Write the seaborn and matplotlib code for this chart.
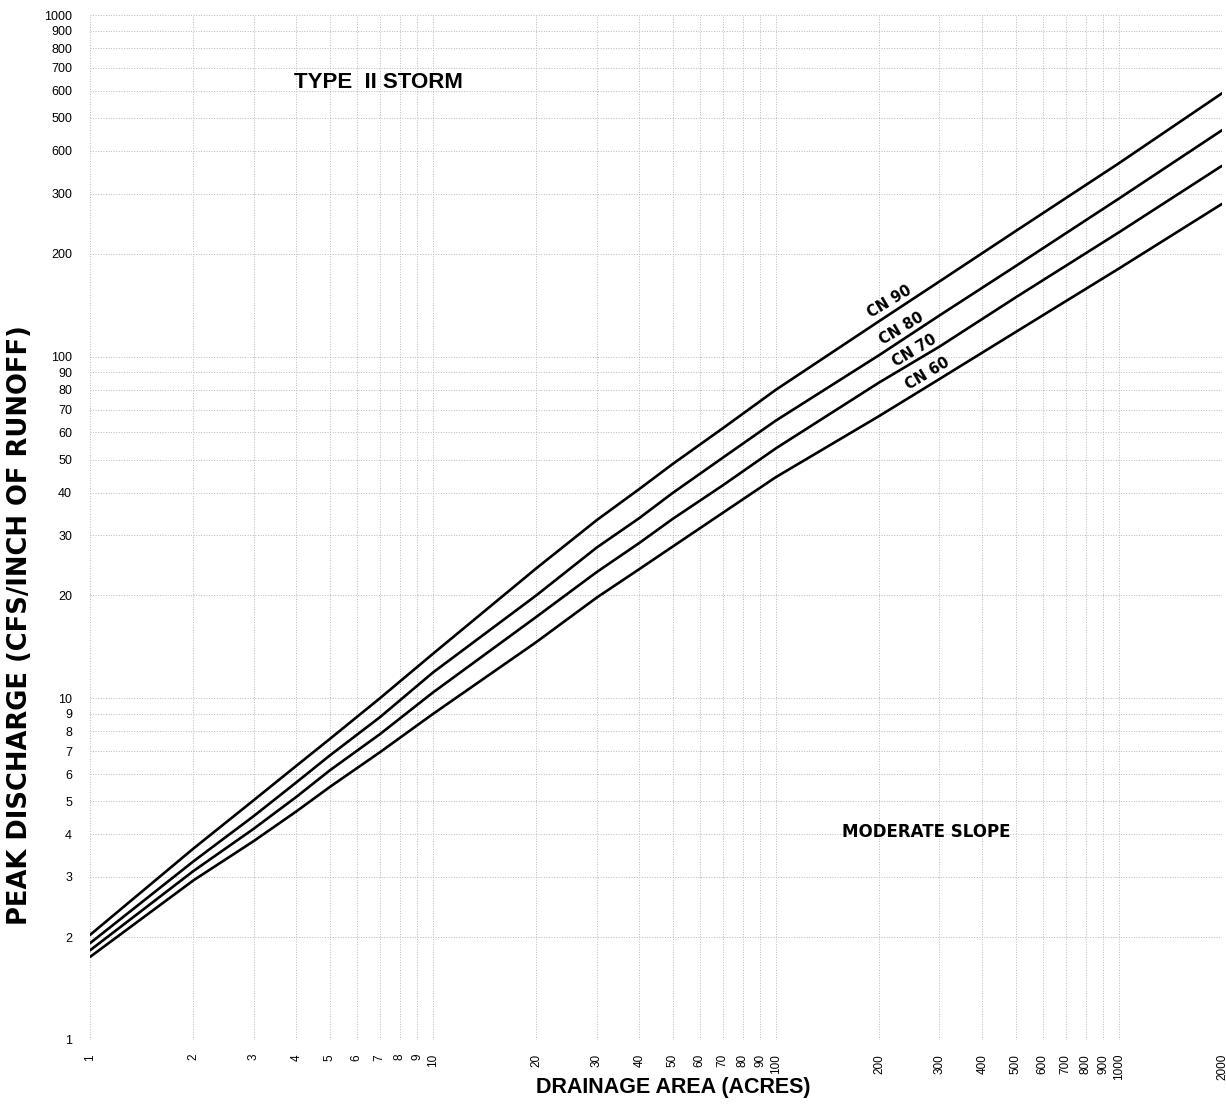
import numpy as np
import pandas as pd
import matplotlib
matplotlib.use('Agg')
import matplotlib.pyplot as plt
import seaborn as sns
from matplotlib.ticker import FixedLocator, NullLocator

# Drainage area (acres) and peak discharge
area = [1, 2, 3, 4, 5, 7, 10, 20, 30, 40, 50, 70, 100, 200, 300, 500, 1000, 2000]
cn90 = [2.03, 3.63, 5.03, 6.35, 7.6, 10.0, 13.5, 24.0, 33.2, 41.0, 48.5, 61.7, 80.0, 127, 166, 233, 368, 590]
cn80 = [1.92, 3.33, 4.52, 5.68, 6.8, 8.8, 11.9, 20.0, 27.6, 33.7, 39.9, 50.6, 65.0, 101, 132, 184, 290, 460]
cn70 = [1.83, 3.12, 4.15, 5.15, 6.15, 7.85, 10.4, 17.3, 23.4, 28.5, 33.5, 42.0, 53.9, 84, 107, 149, 231, 362]
cn60 = [1.75, 2.93, 3.82, 4.67, 5.5, 6.95, 9.0, 14.6, 19.7, 23.9, 27.8, 34.9, 44.4, 67, 86, 118, 181, 280]

curve_names = ['CN 90', 'CN 80', 'CN 70', 'CN 60']
# label anchor points (area, discharge)
label_area = [215, 233, 254, 277]
label_q = [145, 121, 104, 89]

x_ticks = [1, 2, 3, 4, 5, 6, 7, 8, 9, 10, 20, 30, 40, 50, 60, 70, 80, 90, 100,
           200, 300, 400, 500, 600, 700, 800, 900, 1000, 2000]
x_labels = [str(v) for v in x_ticks]
y_ticks = [1, 2, 3, 4, 5, 6, 7, 8, 9, 10, 20, 30, 40, 50, 60, 70, 80, 90, 100,
           200, 300, 400, 500, 600, 700, 800, 900, 1000]
# the original sheet prints "600" at the 400 line
y_labels = ['1', '2', '3', '4', '5', '6', '7', '8', '9', '10', '20', '30', '40', '50', '60',
            '70', '80', '90', '100', '200', '300', '600', '500', '600', '700', '800', '900', '1000']

df = pd.concat([
    pd.DataFrame({'area': area, 'q': vals, 'curve': name})
    for name, vals in zip(curve_names, [cn90, cn80, cn70, cn60])
])

sns.set_theme(style='white')
plt.rcParams['text.color'] = 'black'
plt.rcParams['xtick.color'] = 'black'
plt.rcParams['ytick.color'] = 'black'
narrow = ['Liberation Sans Narrow', 'Liberation Sans', 'DejaVu Sans']

fig = plt.figure(figsize=(12.26, 11.05), dpi=100)
ax = fig.add_axes([90 / 1226, 1 - 1040 / 1105, 1132 / 1226, 1025 / 1105])

sns.lineplot(data=df, x='area', y='q', hue='curve', palette=['black'] * 4,
             linewidth=1.9, legend=False, ax=ax)

ax.set_xscale('log')
ax.set_yscale('log')
ax.set_xlim(1, 2000)
ax.set_ylim(1, 1000)

ax.xaxis.set_major_locator(FixedLocator(x_ticks))
ax.yaxis.set_major_locator(FixedLocator(y_ticks))
ax.xaxis.set_minor_locator(NullLocator())
ax.yaxis.set_minor_locator(NullLocator())
ax.set_xticklabels(x_labels, rotation=90, fontsize=8.5, family=narrow)
ax.set_yticklabels(y_labels, fontsize=9, family=narrow)
ax.tick_params(axis='x', length=0, pad=10)
ax.tick_params(axis='y', length=0, pad=13)

ax.grid(True, which='major', linestyle=':', color='#b8b8b8', linewidth=0.7)
for s in ax.spines.values():
    s.set_visible(False)
ax.set_xlabel('')
ax.set_ylabel('')

for name, xa, yq in zip(curve_names, label_area, label_q):
    ax.text(xa, yq, name, rotation=31, ha='center', va='center',
            fontsize=10.5, fontweight='bold', family='DejaVu Sans')

fig.text(378 / 1226, 1 - 82 / 1105, 'TYPE  II STORM', ha='center', va='center',
         fontsize=16, fontweight='bold', family=['Liberation Sans', 'DejaVu Sans'])
fig.text(926 / 1226, 1 - 832 / 1105, 'MODERATE SLOPE', ha='center', va='center',
         fontsize=12, fontweight='bold', family='DejaVu Sans')
fig.text(673 / 1226, 1 - 1088 / 1105, 'DRAINAGE AREA (ACRES)', ha='center', va='center',
         fontsize=15.5, fontweight='bold', family=narrow)
fig.text(20 / 1226, 1 - 625 / 1105, 'PEAK DISCHARGE (CFS/INCH OF RUNOFF)', rotation=90,
         ha='center', va='center', fontsize=18.5, fontweight='bold', family='DejaVu Sans')

fig.savefig('out.png', dpi=100, facecolor='white')
